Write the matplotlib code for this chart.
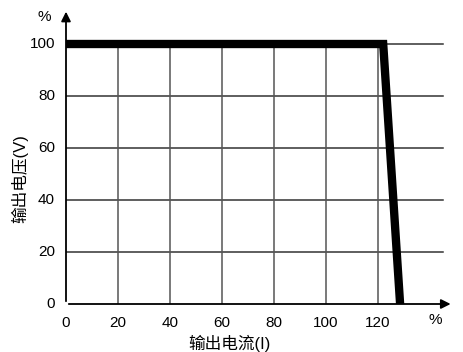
import matplotlib
matplotlib.use("Agg")
import matplotlib.pyplot as plt

plt.rcParams['font.family'] = ['Liberation Sans', 'Noto Sans CJK SC', 'DejaVu Sans']

# curve: output voltage vs output current (percent)
curr = [0, 122, 128.5]
volt = [100, 100, 0]

xticks = [0, 20, 40, 60, 80, 100, 120]
yticks = [0, 20, 40, 60, 80, 100]

fig = plt.figure(figsize=(4.64, 3.52), dpi=100)
ax = fig.add_axes([66/464, 48/352, 390/464, 299/352])
ax.set_xlim(0, 150)
ax.set_ylim(0, 115)
for s in ax.spines.values():
    s.set_visible(False)
ax.set_xticks([])
ax.set_yticks([])

# grid
for y in yticks[1:]:
    ax.plot([0, 145], [y, y], color='#333333', lw=1.1, zorder=1)
for x in xticks[1:]:
    ax.plot([x, x], [0, 100], color='#555555', lw=1.1, zorder=1)

# axes with arrows
ax.annotate('', xy=(149, 0), xytext=(0, 0),
            arrowprops=dict(arrowstyle='-|>', color='black', lw=1.3, mutation_scale=14), zorder=3)
ax.annotate('', xy=(0, 113.5), xytext=(0, 0),
            arrowprops=dict(arrowstyle='-|>', color='black', lw=1.3, mutation_scale=14), zorder=3)

ax.plot(curr, volt, color='black', lw=6, solid_joinstyle='miter', zorder=4)

for y in yticks:
    ax.text(-4.2, y, str(y), ha='right', va='center', fontsize=11)
for x in xticks:
    ax.text(x, -4.5, str(x), ha='center', va='top', fontsize=11)
ax.text(-8.5, 110.5, '%', ha='center', va='center', fontsize=11, clip_on=False)
ax.text(142, -6, '%', ha='center', va='center', fontsize=11, clip_on=False)

fig.text(229/464, 1 - 343/352, '输出电流(I)', ha='center', va='center', fontsize=12)
fig.text(20/464, 1 - 179/352, '输出电压(V)', ha='center', va='center', fontsize=12, rotation=90)

fig.savefig('out.png', dpi=100)
